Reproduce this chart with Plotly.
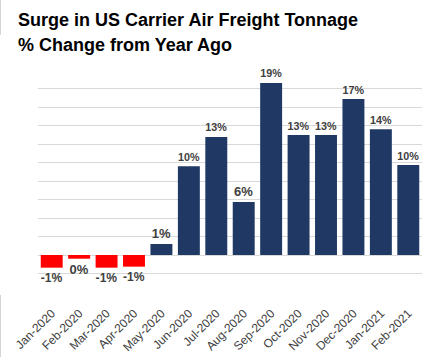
import plotly.graph_objects as go

months = ["Jan-2020", "Feb-2020", "Mar-2020", "Apr-2020", "May-2020", "Jun-2020",
          "Jul-2020", "Aug-2020", "Sep-2020", "Oct-2020", "Nov-2020", "Dec-2020",
          "Jan-2021", "Feb-2021"]
pct_change = [-1.37, -0.4, -1.37, -1.26, 1.19, 9.6, 12.76, 5.73, 18.6, 12.97,
              12.97, 16.86, 13.6, 9.73]
grid_vals = [-4, -2, 0, 2, 4, 6, 8, 10, 12, 14, 16, 18]

W, H = 427, 357
ML, MR, MT, MB = 38, 5, 70, 65
PW, PH = W - ML - MR, H - MT - MB

def px_x(x):
    return (x - ML) / PW

def px_y(y):
    return 1 - (y - MT) / PH

labels = [f"{int(round(v))}%" for v in pct_change]
colors = ["#FF0000" if v < 0 else "#1F3864" for v in pct_change]

fig = go.Figure(go.Bar(
    x=months, y=pct_change, marker=dict(color=colors, line=dict(width=0)),
    text=labels, textposition="outside", cliponaxis=False,
    textfont=dict(family="Liberation Sans", size=13, color="#404040", weight="bold"),
    hoverinfo="skip",
))

fig.update_layout(
    width=W, height=H, margin=dict(l=ML, r=MR, t=MT, b=MB, autoexpand=False),
    paper_bgcolor="white", plot_bgcolor="white", showlegend=False,
    bargap=0.2,
    font=dict(family="Liberation Sans", color="#404040"),
)
fig.update_xaxes(type="category", tickangle=-45, showgrid=False, showline=False,
                 ticks="", ticklabelstandoff=11, automargin=False,
                 tickfont=dict(family="Liberation Sans", size=12, color="#404040"))
fig.update_yaxes(range=[-4, 20], tickvals=grid_vals, showticklabels=False,
                 showgrid=True, gridcolor="#D9D9D9", gridwidth=1, zeroline=False,
                 showline=False, ticks="", automargin=False)

fig.add_annotation(text="<b>Surge in US Carrier Air Freight Tonnage</b>",
                   xref="paper", yref="paper", x=px_x(16), y=px_y(20),
                   xanchor="left", yanchor="middle", showarrow=False,
                   font=dict(family="Liberation Sans", size=18, color="black"))
fig.add_annotation(text="<b>% Change from Year Ago</b>",
                   xref="paper", yref="paper", x=px_x(16), y=px_y(45),
                   xanchor="left", yanchor="middle", showarrow=False,
                   font=dict(family="Liberation Sans", size=18, color="black"))

for y0, y1 in [(0, 35), (295, 357)]:
    fig.add_shape(type="line", xref="paper", yref="paper",
                  x0=px_x(0.5), x1=px_x(0.5), y0=px_y(y0), y1=px_y(y1),
                  line=dict(color="#D4D4D4", width=1))

fig.write_html("out.html", config={"displayModeBar": False, "staticPlot": True},
               post_script="document.body.style.margin='0';document.body.style.overflow='hidden';")
